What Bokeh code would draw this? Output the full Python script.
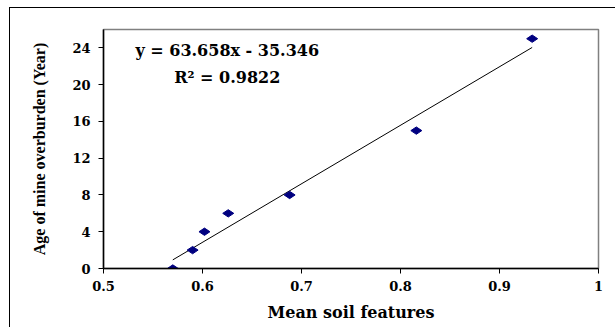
import math
from bokeh.plotting import figure
from bokeh.models import FixedTicker, Range1d
from bokeh.core.properties import value
from bokeh.embed import file_html
from bokeh.resources import INLINE

# Data
soil = [0.570, 0.590, 0.602, 0.626, 0.688, 0.816, 0.933]
age = [0, 2, 4, 6, 8, 15, 25]
slope = 63.658
intercept = -35.346
eq_label = "y = 63.658x - 35.346"
r2_label = "R² = 0.9822"
x_ticks = [0.5, 0.6, 0.7, 0.8, 0.9, 1.0]
x_tick_labels = {0.5: "0.5", 0.6: "0.6", 0.7: "0.7", 0.8: "0.8", 0.9: "0.9", 1.0: "1"}
y_ticks = [0, 4, 8, 12, 16, 20, 24]

HFONT = "DejaVu Serif"
VFONT = "Liberation Serif"

outer_css = """
:host { position: relative; }
:host::after {
  content: "";
  position: absolute;
  left: 9px; top: 7px; right: -8px; bottom: 0px;
  border-left: 1.5px solid black;
  border-top: 1.5px solid black;
  pointer-events: none;
  z-index: 10;
}
"""

p = figure(width=607, height=327, output_backend="svg", toolbar_location=None,
           x_range=Range1d(0.5, 1.0), y_range=Range1d(0, 26),
           min_border_left=103, min_border_right=9, min_border_top=29, min_border_bottom=59,
           stylesheets=[outer_css])
p.background_fill_color = "white"
p.border_fill_color = "white"
p.outline_line_color = "#808080"
p.outline_line_width = 1.5
p.xgrid.visible = False
p.ygrid.visible = False

# trendline
x0, x1 = min(soil), max(soil)
p.line([x0, x1], [slope * x0 + intercept, slope * x1 + intercept], line_color="black", line_width=1)
p.scatter(soil, age, marker="diamond", size=11, angle=math.pi / 2,
          fill_color="#000080", line_color="#000080")

p.text([0.625], [23.75], text=[eq_label], text_font=value(HFONT), text_font_style="bold",
       text_font_size="16px", text_align="center", text_baseline="middle", text_color="black")
p.text([0.625], [20.8], text=[r2_label], text_font=value(HFONT), text_font_style="bold",
       text_font_size="16px", text_align="center", text_baseline="middle", text_color="black")

xa = p.xaxis[0]
xa.ticker = FixedTicker(ticks=x_ticks)
xa.major_label_overrides = x_tick_labels
xa.axis_label = "Mean soil features"
ya = p.yaxis[0]
ya.ticker = FixedTicker(ticks=y_ticks)
ya.axis_label = "Age of mine overburden (Year)"

for ax in (xa, ya):
    ax.axis_line_color = "black"
    ax.axis_line_width = 1.5
    ax.major_tick_line_color = "black"
    ax.major_tick_out = 5
    ax.major_tick_in = 0
    ax.minor_tick_line_color = None
    ax.major_label_text_font = HFONT
    ax.major_label_text_font_style = "bold"
    ax.major_label_text_font_size = "13px"
    ax.major_label_text_color = "black"
    ax.axis_label_text_font_style = "bold"
    ax.axis_label_text_color = "black"

xa.major_label_standoff = 7
xa.axis_label_text_font = HFONT
xa.axis_label_text_font_size = "16px"
xa.axis_label_standoff = 9
ya.major_label_standoff = 8
ya.axis_label_text_font = VFONT
ya.axis_label_text_font_size = "16px"
ya.axis_label_standoff = 21

open("out.html", "w").write(file_html(p, INLINE))
